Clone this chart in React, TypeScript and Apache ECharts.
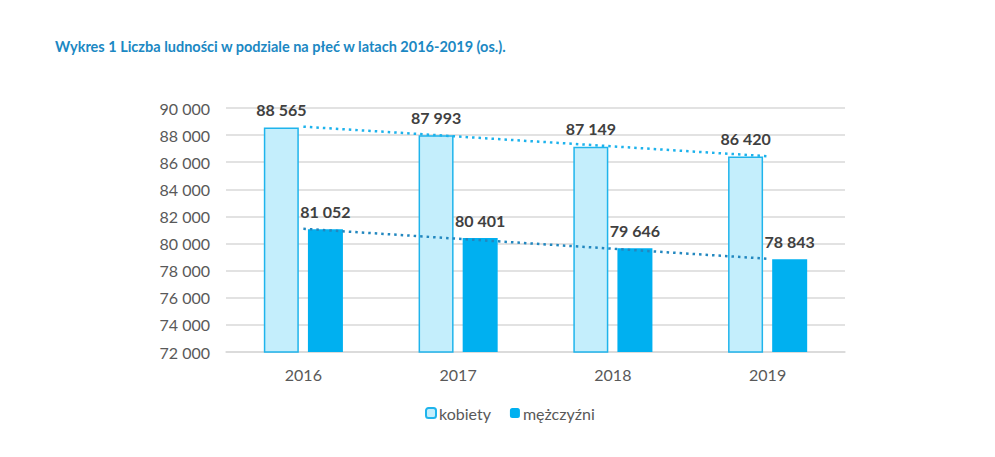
import React, { useEffect, useRef } from "react";
import * as echarts from "echarts";

const years = ["2016", "2017", "2018", "2019"];
const kobiety = [88565, 87993, 87149, 86420];
const mezczyzni = [81052, 80401, 79646, 78843];
const titleText = "Wykres 1 Liczba ludności w podziale na płeć w latach 2016-2019 (os.).";

// Excel-style linear trendline (least squares) derived from the data
function linearTrend(vals: number[]): number[] {
  const n = vals.length;
  const mx = (n - 1) / 2;
  const my = vals.reduce((a, b) => a + b, 0) / n;
  let num = 0;
  let den = 0;
  vals.forEach((v, i) => {
    num += (i - mx) * (v - my);
    den += (i - mx) * (i - mx);
  });
  const slope = num / den;
  return vals.map((_, i) => my + slope * (i - mx));
}

const fmt = (v: number) =>
  String(Math.round(v)).replace(/\B(?=(\d{3})+(?!\d))/g, " ");

const FONT = "Lato, 'Open Sans', sans-serif";

export default function App() {
  const ref = useRef<HTMLDivElement>(null);
  useEffect(() => {
    if (!ref.current) return;
    const chart = echarts.init(ref.current, undefined, { renderer: "svg" });
    chart.setOption({
      animation: false,
      backgroundColor: "#ffffff",
      textStyle: { fontFamily: FONT },
      title: {
        text: titleText,
        left: 50,
        top: 34,
        textStyle: { fontFamily: FONT, fontSize: 14.5, fontWeight: "bold", color: "#1B88C3" },
      },
      legend: {
        data: ["kobiety", "mężczyźni"],
        left: 420,
        top: 400,
        itemWidth: 10,
        itemHeight: 10,
        itemGap: 19,
        textStyle: { fontFamily: FONT, fontSize: 16, color: "#595959", padding: [0, 0, 0, -2] },
      },
      grid: { left: 226, right: 150, top: 108, bottom: 105, containLabel: false },
      xAxis: {
        type: "category",
        data: years,
        axisTick: { show: false },
        axisLine: { lineStyle: { color: "#D9D9D9", width: 1.5 } },
        axisLabel: { fontFamily: FONT, fontSize: 16, color: "#595959", margin: 14 },
      },
      yAxis: {
        type: "value",
        min: 72000,
        max: 90000,
        interval: 2000,
        axisLine: { show: false },
        axisTick: { show: false },
        splitLine: { lineStyle: { color: "#D9D9D9", width: 1.5 } },
        axisLabel: { fontFamily: FONT, fontSize: 16, color: "#595959", margin: 16, formatter: (v: number) => fmt(v) },
      },
      series: [
        {
          name: "kobiety",
          type: "bar",
          data: kobiety,
          barWidth: 35,
          barGap: "26%",
          itemStyle: { color: "#C4EEFC", borderColor: "#1FB4EC", borderWidth: 1.5 },
          label: {
            show: true,
            position: "top",
            distance: 10,
            fontFamily: FONT,
            fontSize: 16,
            fontWeight: "bold",
            color: "#404040",
            formatter: (p: any) => fmt(p.value),
          },
        },
        {
          name: "mężczyźni",
          type: "bar",
          data: mezczyzni,
          barWidth: 35,
          itemStyle: { color: "#00B0F0" },
          label: {
            show: true,
            position: "top",
            distance: 10,
            fontFamily: FONT,
            fontSize: 16,
            fontWeight: "bold",
            color: "#404040",
            formatter: (p: any) => fmt(p.value),
          },
        },
        {
          name: "trend kobiety",
          type: "line",
          data: linearTrend(kobiety),
          symbol: "none",
          z: 5,
          silent: true,
          lineStyle: { color: "#1CB2EC", width: 2.5, type: [2.5, 4] },
        },
        {
          name: "trend mężczyźni",
          type: "line",
          data: linearTrend(mezczyzni),
          symbol: "none",
          z: 5,
          silent: true,
          lineStyle: { color: "#2287BF", width: 2.5, type: [2.5, 4] },
        },
      ],
    });
    return () => chart.dispose();
  }, []);
  return (
    <div
      ref={ref}
      style={{ position: "absolute", left: 0, top: 0, width: 995, height: 457 }}
    />
  );
}
